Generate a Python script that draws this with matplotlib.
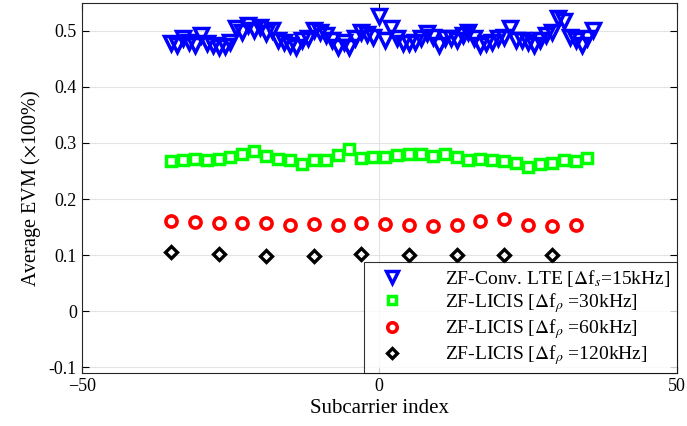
import matplotlib
matplotlib.use("Agg")
import matplotlib.pyplot as plt
import numpy as np

plt.rcParams['font.family'] = ['Liberation Serif', 'DejaVu Serif']
plt.rcParams['mathtext.fontset'] = 'stix'

# data
x_lte = list(range(-35, 37))
evm_lte = [0.478, 0.475, 0.487, 0.480, 0.475, 0.493, 0.479, 0.475, 0.472, 0.473,
           0.480, 0.505, 0.499, 0.511, 0.502, 0.508, 0.496, 0.502, 0.484, 0.481,
           0.475, 0.472, 0.484, 0.487, 0.502, 0.499, 0.493, 0.484, 0.472, 0.481,
           0.472, 0.487, 0.499, 0.495, 0.490, 0.526, 0.484, 0.505, 0.487, 0.478,
           0.478, 0.481, 0.487, 0.496, 0.490, 0.475, 0.487, 0.487, 0.484, 0.493,
           0.499, 0.487, 0.475, 0.478, 0.481, 0.487, 0.490, 0.505, 0.484, 0.484,
           0.481, 0.475, 0.484, 0.493, 0.499, 0.523, 0.517, 0.490, 0.484, 0.475,
           0.487, 0.502]

x_30 = list(range(-35, 36, 2))
evm_30 = [0.268, 0.270, 0.271, 0.270, 0.271, 0.2755, 0.280, 0.285, 0.277, 0.271,
          0.270, 0.2625, 0.270, 0.270, 0.278, 0.289, 0.274, 0.2755,
          0.2755, 0.278, 0.280, 0.280, 0.277, 0.280, 0.2755, 0.270, 0.271,
          0.270, 0.268, 0.264, 0.257, 0.263, 0.264, 0.270, 0.268, 0.274]

x_60 = list(range(-35, 34, 4))
evm_60 = [0.161, 0.1595, 0.158, 0.158, 0.158, 0.153, 0.155, 0.153, 0.1565,
          0.155, 0.154, 0.152, 0.153, 0.160, 0.165, 0.153, 0.152, 0.153]

x_120 = list(range(-35, 30, 8))
evm_120 = [0.1048, 0.1018, 0.0988, 0.0988, 0.1018, 0.0995, 0.1, 0.1005, 0.0995]

labels = [r'ZF-Conv. LTE [$\Delta$f$_s$=15kHz]',
          r'ZF-LICIS [$\Delta$f$_{\rho}$ =30kHz]',
          r'ZF-LICIS [$\Delta$f$_{\rho}$ =60kHz]',
          r'ZF-LICIS [$\Delta$f$_{\rho}$ =120kHz]']

fig = plt.figure(figsize=(6.87, 4.26), dpi=100)
ax = fig.add_axes([0.119, 0.124, 0.866, 0.869])

ax.plot(x_lte, evm_lte, 'v', color='#0000ff', mfc='none', ms=9.5, mew=2.5, label=labels[0])
ax.plot(x_30, evm_30, 's', color='#00ff00', mfc='none', ms=7, mew=2.5, label=labels[1])
ax.plot(x_60, evm_60, 'o', color='#ff0000', mfc='none', ms=8, mew=2.6, label=labels[2])
ax.plot(x_120, evm_120, 'D', color='black', mfc='none', ms=6.5, mew=2.4, label=labels[3])

ax.set_xlim(-50, 50)
ax.set_ylim(-0.111, 0.55)
ax.set_xticks([-50, 0, 50])
ax.set_yticks([-0.1, 0, 0.1, 0.2, 0.3, 0.4, 0.5])
ax.set_yticklabels(['-0.1', '0', '0.1', '0.2', '0.3', '0.4', '0.5'])
ax.grid(True, color='#e3e3e3', linewidth=0.8)
ax.set_axisbelow(True)
ax.tick_params(direction='in', top=True, right=True, labelsize=13, length=5, width=0.8)
for s in ax.spines.values():
    s.set_linewidth(0.8)
    s.set_color('#262626')

ax.set_xlabel('Subcarrier index', fontsize=15, labelpad=3)
ax.set_ylabel(r'Average EVM ($\times$100%)', fontsize=14.5, labelpad=4)

leg = ax.legend(loc='lower right', borderaxespad=0, fontsize=14, frameon=True,
                fancybox=False, edgecolor='black', handletextpad=1.6, labelspacing=0.12,
                borderpad=0.3, handlelength=2.3, markerscale=0.85)
leg.get_frame().set_linewidth(0.8)

fig.savefig('out.png', dpi=100)
